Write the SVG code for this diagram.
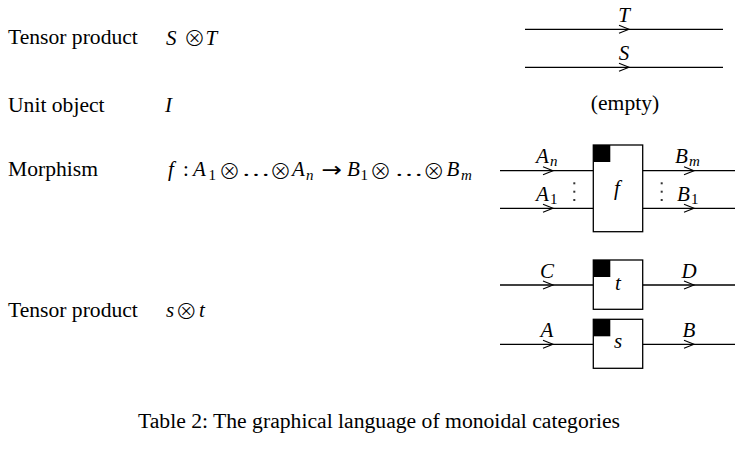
<svg xmlns="http://www.w3.org/2000/svg" width="754" height="453" viewBox="0 0 754 453">
<defs>
<style>
.rm{font-family:"Liberation Serif","Times New Roman",serif;font-size:21.6px;fill:#000}
.it{font-family:"Liberation Serif","Times New Roman",serif;font-style:italic;font-size:21px;fill:#000}
.sub{font-family:"Liberation Serif","Times New Roman",serif;font-style:normal;font-size:15px}
.subi{font-family:"Liberation Serif","Times New Roman",serif;font-style:italic;font-size:15px}
.op{font-family:"Noto Sans CJK SC","DejaVu Sans",sans-serif;font-style:normal;font-weight:300;font-size:22px}
.el{font-family:"Liberation Serif","Times New Roman",serif;font-style:normal;font-size:19px}
.ar{font-family:"DejaVu Sans",sans-serif;font-style:normal;font-size:21px}
.up{font-style:normal}
.wire{stroke:#000;stroke-width:1.3;fill:none}
.chev{stroke:#000;stroke-width:1.1;fill:none}
.box{stroke:#000;stroke-width:1.3;fill:#fff}
.dot{fill:#333}
</style>
<path id="ch" d="M-10,-4 L0,0 L-10,4"/>
</defs>
<rect width="754" height="453" fill="#fff"/>

<g id="labels">
<text class="rm" x="8" y="43.5">Tensor product</text>
<text class="rm" x="8" y="111.5">Unit object</text>
<text class="rm" x="8" y="176">Morphism</text>
<text class="rm" x="8" y="317">Tensor product</text>
</g>

<g id="formulas">
<text class="it" y="44.5"><tspan x="166">S</tspan><tspan class="op" x="183.45" y="46.3">⊗</tspan><tspan x="205.5" y="44.5">T</tspan></text>

<text class="it" x="165" y="111.5">I</text>

<text class="it" y="175.8"><tspan x="168">f</tspan><tspan class="up" x="183">:</tspan><tspan x="193">A</tspan><tspan class="sub" x="208.5" y="179.5">1</tspan><tspan class="op" x="218.5" y="178.5">⊗</tspan><tspan class="el" x="241.5" y="175.8" textLength="29" lengthAdjust="spacingAndGlyphs">…</tspan><tspan class="op" x="269.5" y="178.5">⊗</tspan><tspan x="292" y="175.8">A</tspan><tspan class="subi" x="306" y="179.5">n</tspan><tspan class="ar" x="321.5" y="176.8" textLength="20.5" lengthAdjust="spacingAndGlyphs">→</tspan><tspan x="347" y="175.8">B</tspan><tspan class="sub" x="360.5" y="179.5">1</tspan><tspan class="op" x="369.5" y="178.5">⊗</tspan><tspan class="el" x="394.5" y="175.8" textLength="29" lengthAdjust="spacingAndGlyphs">…</tspan><tspan class="op" x="422.8" y="178.5">⊗</tspan><tspan x="446.5" y="175.8">B</tspan><tspan class="subi" x="461" y="179.5">m</tspan></text>

<text class="it" y="317"><tspan x="166">s</tspan><tspan class="op" x="175.15" y="318.5">⊗</tspan><tspan x="199" y="317">t</tspan></text>
</g>

<g id="connectors">
<line class="wire" x1="525" y1="29.3" x2="723" y2="29.3"/>
<use href="#ch" class="chev" x="629" y="29.3"/>
<line class="wire" x1="525" y1="67.3" x2="723" y2="67.3"/>
<use href="#ch" class="chev" x="629" y="67.3"/>

<line class="wire" x1="500" y1="170.7" x2="593.3" y2="170.7"/>
<use href="#ch" class="chev" x="553" y="170.7"/>
<line class="wire" x1="500" y1="208.3" x2="593.3" y2="208.3"/>
<use href="#ch" class="chev" x="553" y="208.3"/>
<line class="wire" x1="642.7" y1="170.7" x2="735" y2="170.7"/>
<use href="#ch" class="chev" x="694" y="170.7"/>
<line class="wire" x1="642.7" y1="208.3" x2="735" y2="208.3"/>
<use href="#ch" class="chev" x="694" y="208.3"/>

<line class="wire" x1="500" y1="285" x2="593.3" y2="285"/>
<use href="#ch" class="chev" x="553" y="285"/>
<line class="wire" x1="642.7" y1="285" x2="735" y2="285"/>
<use href="#ch" class="chev" x="694" y="285"/>

<line class="wire" x1="500" y1="344.3" x2="593.3" y2="344.3"/>
<use href="#ch" class="chev" x="553" y="344.3"/>
<line class="wire" x1="642.7" y1="344.3" x2="735" y2="344.3"/>
<use href="#ch" class="chev" x="694" y="344.3"/>
</g>

<g id="wire-labels">
<text class="it" x="624" y="22" text-anchor="middle">T</text>
<text class="it" x="624" y="60" text-anchor="middle">S</text>
<text class="it" y="163"><tspan x="536">A</tspan><tspan class="subi" x="550" y="166">n</tspan></text>
<text class="it" y="201"><tspan x="536">A</tspan><tspan class="sub" x="550" y="204">1</tspan></text>
<text class="it" y="163"><tspan x="675">B</tspan><tspan class="subi" x="689" y="166">m</tspan></text>
<text class="it" y="201"><tspan x="677">B</tspan><tspan class="sub" x="691" y="204">1</tspan></text>
<text class="it" x="547" y="278" text-anchor="middle">C</text>
<text class="it" x="689" y="278" text-anchor="middle">D</text>
<text class="it" x="547" y="337" text-anchor="middle">A</text>
<text class="it" x="689" y="337" text-anchor="middle">B</text>
<rect class="dot" x="573.3" y="182.3" width="2" height="2"/>
<rect class="dot" x="573.3" y="190.7" width="2" height="2"/>
<rect class="dot" x="573.3" y="199" width="2" height="2"/>
<rect class="dot" x="660.7" y="182.3" width="2" height="2"/>
<rect class="dot" x="660.7" y="190.7" width="2" height="2"/>
<rect class="dot" x="660.7" y="199" width="2" height="2"/>
</g>

<g id="empty-unit">
<text class="rm" x="625" y="110" text-anchor="middle">(empty)</text>
</g>

<g id="node-f">
<rect class="box" x="593.3" y="145" width="49.4" height="86.7"/>
<rect x="593.3" y="145" width="17" height="17" fill="#000"/>
<text class="it" x="617" y="195" text-anchor="middle">f</text>
</g>

<g id="node-t">
<rect class="box" x="593.3" y="260" width="49.4" height="49.3"/>
<rect x="593.3" y="260" width="17" height="17" fill="#000"/>
<text class="it" x="618" y="290" text-anchor="middle">t</text>
</g>

<g id="node-s">
<rect class="box" x="593.3" y="319.3" width="49.4" height="49"/>
<rect x="593.3" y="319.3" width="17" height="17" fill="#000"/>
<text class="it" x="618" y="348" text-anchor="middle">s</text>
</g>

<g id="caption">
<text class="rm" x="138" y="428" textLength="482" lengthAdjust="spacingAndGlyphs">Table 2: The graphical language of monoidal categories</text>
</g>
</svg>
